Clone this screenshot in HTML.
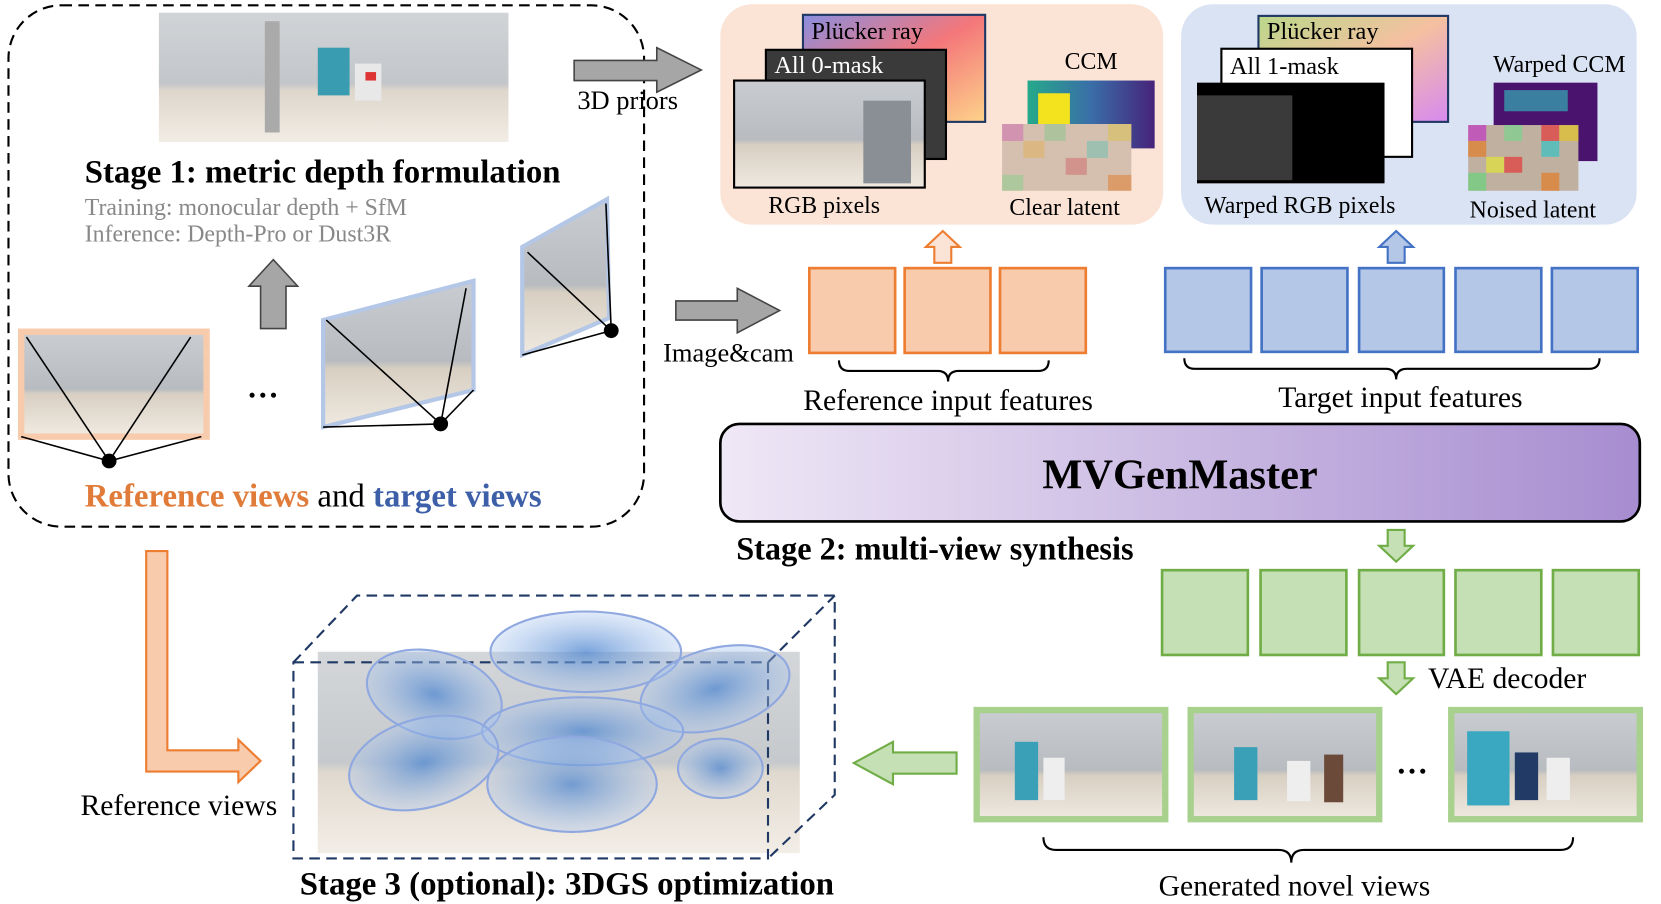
<!DOCTYPE html>
<html><head><meta charset="utf-8"><style>
html,body{margin:0;padding:0;background:#fff;width:1661px;height:904px;overflow:hidden}
svg{display:block}
text{font-family:"Liberation Serif",serif}
</style></head><body>
<svg width="1661" height="904" viewBox="0 0 1568 853" preserveAspectRatio="none" xmlns="http://www.w3.org/2000/svg">
<defs>
<linearGradient id="room" x1="0" y1="0" x2="0" y2="1"><stop offset="0" stop-color="#c9ccd0"/><stop offset=".55" stop-color="#b8bcc0"/><stop offset=".6" stop-color="#d8cfc2"/><stop offset="1" stop-color="#efe9e0"/></linearGradient>
<linearGradient id="pr1" x1="0" y1="0" x2="1" y2="1"><stop offset="0" stop-color="#8a8ee0"/><stop offset=".5" stop-color="#f4777a"/><stop offset="1" stop-color="#fdd38a"/></linearGradient>
<linearGradient id="pr2" x1="0" y1="0" x2="1" y2="1"><stop offset="0" stop-color="#b9d88a"/><stop offset=".5" stop-color="#f5c0a0"/><stop offset="1" stop-color="#d68af0"/></linearGradient>
<linearGradient id="ccm" x1="0" y1="0" x2="1" y2="0"><stop offset="0" stop-color="#25a98a"/><stop offset=".5" stop-color="#3a6ea8"/><stop offset="1" stop-color="#46237a"/></linearGradient>
<linearGradient id="mv" x1="0" y1="0" x2="1" y2="0"><stop offset="0" stop-color="#efe8f6"/><stop offset="1" stop-color="#a78dd0"/></linearGradient>
<radialGradient id="blob"><stop offset="0" stop-color="#4d86d0" stop-opacity=".75"/><stop offset="1" stop-color="#a8c4ee" stop-opacity=".35"/></radialGradient>
</defs>

<!-- Stage 1 -->
<rect x="8" y="5" width="600" height="492" rx="50" fill="none" stroke="#000" stroke-width="2" stroke-dasharray="10,6"/>
<rect x="150" y="12" width="330" height="122" fill="url(#room)" opacity=".85"/>
<rect x="250" y="20" width="14" height="105" fill="#aaa"/>
<rect x="300" y="45" width="30" height="45" fill="#3a9cb0"/><rect x="335" y="60" width="25" height="35" fill="#e8e8e8"/><rect x="345" y="68" width="10" height="8" fill="#d33"/>
<text x="80" y="172" font-size="31" font-weight="bold">Stage 1: metric depth formulation</text>
<text x="80" y="203" font-size="22.5" fill="#888">Training: monocular depth + SfM</text>
<text x="80" y="228" font-size="22.5" fill="#888">Inference: Depth-Pro or Dust3R</text>
<polygon points="258,245 281,270 270,270 270,310 246,310 246,270 235,270" fill="#a6a6a6" stroke="#444" stroke-width="1.5"/>
<rect x="17" y="310" width="181" height="105" fill="#f8cbad"/>
<rect x="23" y="316" width="169" height="93" fill="url(#room)"/>
<polyline points="20,412 103,435 190,412" fill="none" stroke="#000" stroke-width="1.5"/>
<line x1="25" y1="318" x2="103" y2="435" stroke="#000" stroke-width="1.5"/><line x1="180" y1="318" x2="103" y2="435" stroke="#000" stroke-width="1.5"/>
<circle cx="103" cy="435" r="7"/>
<text x="233" y="375" font-size="30" font-weight="bold">…</text>
<polygon points="305,302 447,265 447,368 305,403" fill="url(#room)" stroke="#b4c7e7" stroke-width="4"/>
<polyline points="305,403 416,400 447,368" fill="none" stroke="#000" stroke-width="1.5"/>
<line x1="308" y1="302" x2="416" y2="400" stroke="#000" stroke-width="1.5"/><line x1="440" y1="272" x2="416" y2="400" stroke="#000" stroke-width="1.5"/>
<circle cx="416" cy="400" r="7"/>
<polygon points="493,233 573,188 575,300 493,335" fill="url(#room)" stroke="#b4c7e7" stroke-width="4"/>
<polyline points="493,335 577,312" fill="none" stroke="#000" stroke-width="1.5"/>
<line x1="498" y1="238" x2="577" y2="312" stroke="#000" stroke-width="1.5"/><line x1="572" y1="192" x2="577" y2="312" stroke="#000" stroke-width="1.5"/>
<circle cx="577" cy="312" r="7"/>
<text x="80" y="478" font-size="31" font-weight="bold"><tspan fill="#e07b39">Reference views</tspan><tspan fill="#000" font-weight="normal"> and </tspan><tspan fill="#3d5fa8">target views</tspan></text>

<!-- 3D priors arrow -->
<polygon points="542,57 620,57 620,45 662,66 620,87 620,76 542,76" fill="#a6a6a6" stroke="#444" stroke-width="1.5"/>
<text x="545" y="103" font-size="25">3D priors</text>

<!-- Peach box -->
<rect x="680" y="4" width="418" height="208" rx="30" fill="#fbe3d6"/>
<rect x="758" y="14" width="172" height="101" fill="url(#pr1)" stroke="#1f3864" stroke-width="2"/>
<text x="766" y="37" font-size="23">Plücker ray</text>
<rect x="723" y="47" width="170" height="103" fill="#3a3a3a" stroke="#000" stroke-width="2"/>
<text x="731" y="69" font-size="23" fill="#fff">All 0-mask</text>
<rect x="693" y="76" width="180" height="101" fill="url(#room)" stroke="#000" stroke-width="2"/>
<rect x="815" y="95" width="45" height="78" fill="#8a8f95"/>
<text x="778" y="201" font-size="22.5" text-anchor="middle">RGB pixels</text>
<text x="1030" y="65" font-size="22.5" text-anchor="middle">CCM</text>
<rect x="970" y="76" width="120" height="64" fill="url(#ccm)"/><rect x="980" y="88" width="30" height="40" fill="#f3e21e"/>
<rect x="946" y="117" width="122" height="63" fill="#d5c0b0"/>
<g opacity=".55"><rect x="946" y="117" width="20" height="16" fill="#d06fb0"/><rect x="986" y="117" width="20" height="16" fill="#8fc48f"/><rect x="1046" y="117" width="22" height="16" fill="#d8c050"/><rect x="966" y="133" width="20" height="16" fill="#e0b060"/><rect x="1026" y="133" width="20" height="16" fill="#70c0b0"/><rect x="1006" y="149" width="20" height="16" fill="#d07070"/><rect x="946" y="165" width="20" height="15" fill="#90d090"/><rect x="1046" y="165" width="22" height="15" fill="#e08030"/></g>
<text x="1005" y="203" font-size="22.5" text-anchor="middle">Clear latent</text>

<!-- Blue box -->
<rect x="1115" y="4" width="430" height="208" rx="30" fill="#dae3f3"/>
<rect x="1188" y="15" width="179" height="100" fill="url(#pr2)" stroke="#1f3864" stroke-width="2"/>
<text x="1196" y="37" font-size="23">Plücker ray</text>
<rect x="1153" y="46" width="180" height="102" fill="#fff" stroke="#000" stroke-width="2"/>
<text x="1161" y="70" font-size="23">All 1-mask</text>
<rect x="1130" y="78" width="177" height="95" fill="#000"/>
<rect x="1130" y="90" width="90" height="80" fill="#3a3a3a"/>
<text x="1227" y="201" font-size="22.5" text-anchor="middle">Warped RGB pixels</text>
<text x="1472" y="68" font-size="22.5" text-anchor="middle">Warped CCM</text>
<rect x="1410" y="78" width="98" height="74" fill="#4a136e"/><rect x="1420" y="85" width="60" height="20" fill="#3a7ea0"/>
<rect x="1386" y="118" width="104" height="62" fill="#c0b0a0"/>
<g opacity=".75"><rect x="1386" y="118" width="17" height="15" fill="#c040c0"/><rect x="1420" y="118" width="17" height="15" fill="#80d090"/><rect x="1455" y="118" width="17" height="15" fill="#e04040"/><rect x="1472" y="118" width="18" height="15" fill="#e0c030"/><rect x="1386" y="133" width="17" height="15" fill="#e08030"/><rect x="1455" y="133" width="17" height="15" fill="#40c0c0"/><rect x="1403" y="148" width="17" height="15" fill="#e0e040"/><rect x="1420" y="148" width="17" height="15" fill="#e04040"/><rect x="1386" y="163" width="17" height="17" fill="#70d080"/><rect x="1455" y="163" width="17" height="17" fill="#e08030"/></g>
<text x="1447" y="205" font-size="22.5" text-anchor="middle">Noised latent</text>

<!-- up arrows -->
<polygon points="890,218 906,233 898,233 898,248 882,248 882,233 874,233" fill="#fbe3d6" stroke="#ed7d31" stroke-width="2"/>
<polygon points="1318,218 1334,233 1326,233 1326,248 1310,248 1310,233 1302,233" fill="#b4c7e7" stroke="#4472c4" stroke-width="2"/>

<!-- Image&cam arrow -->
<polygon points="638,284 696,284 696,272 736,293 696,314 696,302 638,302" fill="#a6a6a6" stroke="#444" stroke-width="1.5"/>
<text x="626" y="341" font-size="25">Image&amp;cam</text>

<!-- squares -->
<g fill="#f8cbad" stroke="#ed7d31" stroke-width="2.5"><rect x="764" y="253" width="81" height="80"/><rect x="854" y="253" width="81" height="80"/><rect x="944" y="253" width="81" height="80"/></g>
<g fill="#b4c7e7" stroke="#4472c4" stroke-width="2.5"><rect x="1100" y="253" width="81" height="79"/><rect x="1191" y="253" width="81" height="79"/><rect x="1283" y="253" width="80" height="79"/><rect x="1374" y="253" width="81" height="79"/><rect x="1465" y="253" width="81" height="79"/></g>
<g fill="none" stroke="#000" stroke-width="2">
<path d="M792,340 q0,10 10,10 h83 q10,0 10,10 q0,-10 10,-10 h75 q10,0 10,-10"/>
<path d="M1118,338 q0,10 10,10 h180 q10,0 10,10 q0,-10 10,-10 h172 q10,0 10,-10"/>
<path d="M985,790 q0,12 12,12 h210 q12,0 12,12 q0,-12 12,-12 h242 q12,0 12,-12"/>
</g>
<text x="895" y="387" font-size="28" text-anchor="middle">Reference input features</text>
<text x="1322" y="384" font-size="28" text-anchor="middle">Target input features</text>

<!-- MVGenMaster -->
<rect x="680" y="400" width="868" height="92" rx="18" fill="url(#mv)" stroke="#000" stroke-width="2.5"/>
<text x="1114" y="461" font-size="40" font-weight="bold" text-anchor="middle">MVGenMaster</text>
<text x="695" y="528" font-size="30.5" font-weight="bold">Stage 2: multi-view synthesis</text>

<polygon points="1318,530 1334,515 1326,515 1326,500 1310,500 1310,515 1302,515" fill="#c5e0b4" stroke="#70ad47" stroke-width="2"/>
<g fill="#c5e0b4" stroke="#70ad47" stroke-width="2.5"><rect x="1097" y="538" width="81" height="80"/><rect x="1190" y="538" width="81" height="80"/><rect x="1283" y="538" width="80" height="80"/><rect x="1374" y="538" width="81" height="80"/><rect x="1466" y="538" width="81" height="80"/></g>
<polygon points="1318,655 1334,640 1326,640 1326,625 1310,625 1310,640 1302,640" fill="#c5e0b4" stroke="#70ad47" stroke-width="2"/>
<text x="1348" y="649" font-size="28">VAE decoder</text>

<g stroke="#a9d18e" stroke-width="6" fill="url(#room)"><rect x="922" y="670" width="178" height="103"/><rect x="1124" y="670" width="178" height="103"/><rect x="1370" y="670" width="178" height="103"/></g>
<g><rect x="958" y="700" width="22" height="55" fill="#3aa0b8"/><rect x="985" y="715" width="20" height="40" fill="#eee"/><rect x="1165" y="705" width="22" height="50" fill="#3aa0b8"/><rect x="1215" y="718" width="22" height="38" fill="#eee"/><rect x="1250" y="712" width="18" height="45" fill="#6b4a3a"/><rect x="1385" y="690" width="40" height="70" fill="#3aa8c0"/><rect x="1430" y="710" width="22" height="45" fill="#223a66"/><rect x="1460" y="715" width="22" height="40" fill="#eee"/></g>
<text x="1318" y="730" font-size="30" font-weight="bold">…</text>
<text x="1222" y="845" font-size="28" text-anchor="middle">Generated novel views</text>

<polygon points="806,720 843,700 843,710 903,710 903,730 843,730 843,740" fill="#c5e0b4" stroke="#70ad47" stroke-width="2"/>

<!-- L arrow -->
<polygon points="138,520 158,520 158,708 225,708 225,698 246,718 225,738 225,728 138,728" fill="#f8cbad" stroke="#ed7d31" stroke-width="2"/>
<text x="76" y="769" font-size="28">Reference views</text>

<!-- Stage 3 cube -->
<rect x="300" y="615" width="455" height="190" fill="url(#room)" opacity=".8"/>
<g fill="none" stroke="#1f3864" stroke-width="2" stroke-dasharray="10,6">
<rect x="277" y="625" width="448" height="185"/>
<polyline points="277,625 337,562 788,562 788,750 725,810"/>
<line x1="725" y1="625" x2="788" y2="562"/>
</g>
<g fill="url(#blob)" stroke="#8fa8e0" stroke-width="2">
<ellipse cx="410" cy="655" rx="65" ry="40" transform="rotate(15 410 655)"/>
<ellipse cx="553" cy="615" rx="90" ry="38"/>
<ellipse cx="675" cy="650" rx="72" ry="38" transform="rotate(-15 675 650)"/>
<ellipse cx="550" cy="690" rx="95" ry="32"/>
<ellipse cx="400" cy="720" rx="72" ry="42" transform="rotate(-15 400 720)"/>
<ellipse cx="540" cy="740" rx="80" ry="45"/>
<ellipse cx="680" cy="725" rx="40" ry="28"/>
</g>
<text x="283" y="844" font-size="31" font-weight="bold">Stage 3 (optional): 3DGS optimization</text>
</svg>
</body></html>
